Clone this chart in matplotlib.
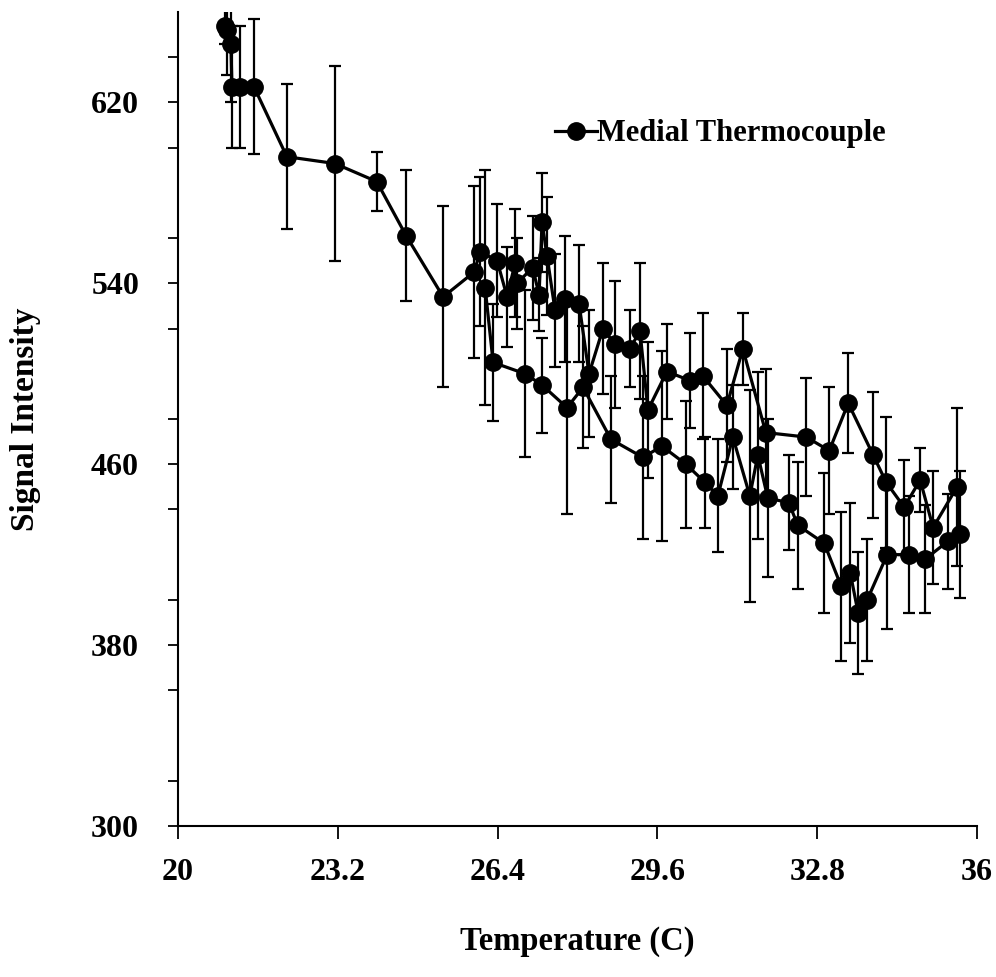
import numpy as np
import matplotlib
matplotlib.use("Agg")
import matplotlib.pyplot as plt
from matplotlib.lines import Line2D
from matplotlib.ticker import MultipleLocator


# heating run (upper branch) then cooling run (lower branch), one continuous trace
temp_c = [20.95, 20.98, 21.06, 21.08, 21.24, 21.52, 22.18, 23.14, 23.98, 24.57,
          25.31, 25.93, 26.05, 26.39, 26.59, 26.75, 26.79, 27.10, 27.23, 27.29,
          27.39, 27.55, 27.75, 28.03, 28.23, 28.51, 28.75, 29.05, 29.25, 29.41,
          29.79, 30.25, 30.51, 30.99, 31.31, 31.77, 32.58, 33.04, 33.42, 33.92,
          34.18, 34.54, 34.86, 35.12, 35.60,
          35.66, 35.42, 34.96, 34.64, 34.20, 33.80, 33.62, 33.46, 33.28, 32.94,
          32.41, 32.23, 31.81, 31.61, 31.45, 31.11, 30.81, 30.55, 30.17, 29.69,
          29.31, 28.67, 28.11, 27.79, 27.29, 26.95, 26.31, 26.15]
signal = [654, 652, 646, 627, 627, 627, 596, 593, 585, 561,
          534, 545, 554, 550, 534, 549, 540, 547, 535, 567,
          552, 528, 533, 531, 500, 520, 513, 511, 519, 484,
          501, 497, 499, 486, 511, 474, 472, 466, 487, 464,
          452, 441, 453, 432, 450,
          429, 426, 418, 420, 420, 400, 394, 412, 406, 425,
          433, 443, 445, 464, 446, 472, 446, 452, 460, 468,
          463, 471, 494, 485, 495, 500, 505, 538]
sd = [8, 20, 26, 27, 27, 30, 32, 43, 13, 29,
      40, 38, 33, 25, 22, 24, 20, 23, 16, 22,
      26, 25, 28, 26, 28, 29, 28, 17, 30, 30,
      21, 21, 28, 25, 16, 28, 26, 28, 22, 28,
      29, 21, 14, 25, 35,
      28, 21, 24, 26, 33, 27, 27, 31, 33, 31,
      28, 21, 35, 37, 47, 23, 25, 20, 28, 42,
      36, 28, 27, 47, 21, 37, 26, 52]

x_ticks = [20, 23.2, 26.4, 29.6, 32.8, 36]
y_ticks = [300, 380, 460, 540, 620]

plt.rcParams['font.family'] = 'Liberation Serif'
plt.rcParams['font.weight'] = 'bold'
plt.rcParams['axes.labelweight'] = 'bold'

fig = plt.figure(figsize=(9.96, 9.77), dpi=100)
ax = fig.add_axes([0.1787, 0.1546, 0.8023, 0.8331])

ax.errorbar(temp_c, signal, yerr=sd, color='black', lw=2.3, marker='o', ms=12.5,
            elinewidth=1.6, capsize=4.5, capthick=1.6)

ax.set_xlim(20, 36)
ax.set_ylim(300, 660)
ax.set_xticks(x_ticks)
ax.set_xticklabels(['20', '23.2', '26.4', '29.6', '32.8', '36'])
ax.set_yticks(y_ticks)
ax.yaxis.set_minor_locator(MultipleLocator(40))

for s in ['top', 'right']:
    ax.spines[s].set_visible(False)
for s in ['left', 'bottom']:
    ax.spines[s].set_linewidth(1.5)

ax.tick_params(axis='both', which='both', direction='out', width=1.3, labelsize=23)
ax.tick_params(axis='y', which='both', length=7, pad=21)
ax.tick_params(axis='x', which='major', length=9, pad=14)

ax.set_xlabel('Temperature (C)', fontsize=23.5, labelpad=28)
ax.set_ylabel('Signal Intensity', fontsize=24, labelpad=36)

handle = Line2D([], [], color='black', lw=2.3, marker='o', ms=12.5)
ax.legend([handle], ['Medial Thermocouple'], loc='upper left',
          bbox_to_anchor=(0.456, 0.883), frameon=False,
          fontsize=22, handlelength=1.4, handletextpad=0.0, borderaxespad=0)

fig.savefig('out.png', dpi=100)
